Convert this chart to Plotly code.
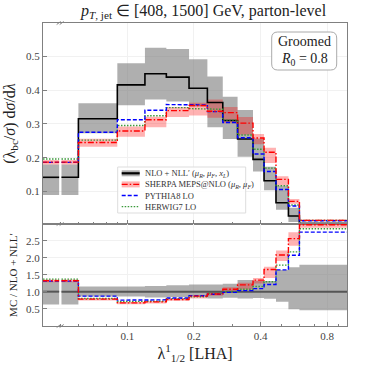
import plotly.graph_objects as go

# bin edges of lambda^1_{1/2} (first bin is the underflow [0, 0.06])
edges = [0.0, 0.06, 0.09, 0.12, 0.15, 0.19, 0.23, 0.27, 0.315, 0.37, 0.415, 0.47, 0.535, 0.6, 1.0]

# upper panel: (lambda_bc / sigma) dsigma/dlambda
nll = [0.142, 0.315, 0.415, 0.448, 0.438, 0.405, 0.363, 0.310, 0.255, 0.195, 0.132, 0.067, 0.0275, 0.005]
nll_lo = [0.090, 0.272, 0.355, 0.372, 0.366, 0.351, 0.290, 0.255, 0.203, 0.159, 0.104, 0.046, 0.010, 0.0025]
nll_hi = [0.180, 0.361, 0.479, 0.525, 0.521, 0.491, 0.440, 0.380, 0.341, 0.257, 0.173, 0.117, 0.052, 0.009]
sherpa = [0.187, 0.245, 0.279, 0.312, 0.339, 0.354, 0.337, 0.333, 0.302, 0.258, 0.216, 0.136, 0.071, 0.0148]
sherpa_lo = [0.180, 0.232, 0.262, 0.290, 0.320, 0.325, 0.318, 0.302, 0.268, 0.240, 0.184, 0.118, 0.064, 0.012]
sherpa_hi = [0.193, 0.256, 0.292, 0.321, 0.350, 0.362, 0.372, 0.350, 0.320, 0.270, 0.229, 0.145, 0.078, 0.017]
pythia = [0.186, 0.275, 0.312, 0.340, 0.357, 0.356, 0.336, 0.304, 0.259, 0.211, 0.159, 0.106, 0.057, 0.0137]
herwig = [0.196, 0.252, 0.295, 0.324, 0.348, 0.345, 0.343, 0.311, 0.267, 0.225, 0.169, 0.117, 0.060, 0.0142]

# lower panel: MC / NLO + NLL'
r_nll_lo = [0.62, 0.86, 0.86, 0.83, 0.84, 0.87, 0.80, 0.82, 0.80, 0.81, 0.79, 0.70, 0.48, 0.45]
r_nll_hi = [1.30, 1.15, 1.15, 1.17, 1.19, 1.21, 1.21, 1.23, 1.34, 1.32, 1.31, 1.64, 1.72, 1.79]
r_sherpa = [1.32, 0.78, 0.67, 0.70, 0.77, 0.87, 0.93, 1.07, 1.20, 1.34, 1.65, 2.08, 2.56, 2.97]
r_sherpa_lo = [1.28, 0.74, 0.63, 0.65, 0.73, 0.80, 0.88, 0.97, 1.06, 1.24, 1.40, 1.90, 2.35, 2.88]
r_sherpa_hi = [1.36, 0.81, 0.70, 0.72, 0.80, 0.89, 1.02, 1.13, 1.26, 1.40, 1.73, 2.21, 2.75, 3.05]
r_pythia = [1.31, 0.87, 0.75, 0.76, 0.815, 0.88, 0.925, 0.98, 1.03, 1.09, 1.21, 1.64, 2.07, 2.75]
r_herwig = [1.37, 0.80, 0.71, 0.72, 0.795, 0.85, 0.945, 1.00, 1.07, 1.15, 1.29, 1.78, 2.17, 2.85]

xticks = [0.1, 0.2, 0.4, 0.8]
xminor = [0.05, 0.06, 0.07, 0.08, 0.09, 0.3, 0.5, 0.6, 0.7, 0.9]

# display of the underflow bin (axis starts above 0, broken at BRK)
X_MIN, X_MAX = 0.0415, 0.985
BRK = (0.0491, 0.0503)

SERIF = "Liberation Serif"
GRAY = "rgba(110,110,110,0.55)"
PINK = "rgba(255,0,0,0.3)"

# plot-area box in pixels (for placing annotations / shapes)
L, R, T, B = 43.3, 347.3, 23.0, 326.0


def px(x):
    return (x - L) / (R - L)


def py(y):
    return (B - y) / (B - T)


def segments():
    segs = [(X_MIN, BRK[0], 0), (BRK[1], edges[1], 0)]
    for i in range(1, len(edges) - 1):
        segs.append((edges[i], edges[i + 1], i))
    return segs


def step_xy(vals):
    xs, ys = [], []
    prev_hi = None
    for lo, hi, i in segments():
        if prev_hi is not None and prev_hi != lo:
            xs.append(None)
            ys.append(None)
        xs += [lo, hi]
        ys += [vals[i], vals[i]]
        prev_hi = hi
    return xs, ys


def band_xy(lo_vals, hi_vals):
    xs, ys = [], []
    for lo, hi, i in segments():
        xs += [lo, hi, hi, lo, lo, None]
        ys += [lo_vals[i], lo_vals[i], hi_vals[i], hi_vals[i], lo_vals[i], None]
    return xs, ys


def add_band(fig, lo_vals, hi_vals, color, row):
    x, y = band_xy(lo_vals, hi_vals)
    fig.add_trace(go.Scatter(x=x, y=y, fill='toself', fillcolor=color, mode='none',
                             hoverinfo='skip', showlegend=False,
                             xaxis='x' if row == 1 else 'x2', yaxis='y' if row == 1 else 'y2'))


def add_step(fig, vals, color, dash, width, row):
    x, y = step_xy(vals)
    fig.add_trace(go.Scatter(x=x, y=y, mode='lines', line=dict(color=color, dash=dash, width=width),
                             showlegend=False,
                             xaxis='x' if row == 1 else 'x2', yaxis='y' if row == 1 else 'y2'))


def note(x, y, text, size, xanchor='center', color='#222'):
    fig.add_annotation(xref='paper', yref='paper', x=px(x), y=py(y), xanchor=xanchor, yanchor='middle',
                       showarrow=False, text=text, font=dict(family=SERIF, size=size, color=color))


fig = go.Figure()

# upper panel
add_band(fig, nll_lo, nll_hi, GRAY, 1)
add_band(fig, sherpa_lo, sherpa_hi, PINK, 1)
add_step(fig, nll, 'black', 'solid', 1.6, 1)
add_step(fig, herwig, '#3a9a3a', '1.5px,1.5px', 1.4, 1)
add_step(fig, pythia, 'blue', '4px,2px', 1.4, 1)
add_step(fig, sherpa, 'red', '6px,2px,1.5px,2px', 1.4, 1)

# lower panel
add_band(fig, r_nll_lo, r_nll_hi, GRAY, 2)
add_band(fig, r_sherpa_lo, r_sherpa_hi, PINK, 2)
add_step(fig, [1.0] * len(nll), '#555555', 'solid', 2.0, 2)
add_step(fig, r_herwig, '#3a9a3a', '1.5px,1.5px', 1.4, 2)
add_step(fig, r_pythia, 'blue', '4px,2px', 1.4, 2)
add_step(fig, r_sherpa, 'red', '6px,2px,1.5px,2px', 1.4, 2)

split = py(224)
axis_common = dict(showline=True, linecolor='#808080', linewidth=1, mirror=True,
                   ticks='inside', tickcolor='#808080', ticklen=4,
                   showgrid=True, gridcolor='#f1f1f1', zeroline=False,
                   tickfont=dict(family=SERIF, size=11, color='#444'))
minor = dict(tickvals=xminor, ticks='inside', ticklen=2, tickcolor='#808080', showgrid=False)

fig.update_layout(
    width=366, height=366,
    margin=dict(l=L, r=366 - R, t=T, b=366 - B, autoexpand=False),
    paper_bgcolor='white', plot_bgcolor='white',
    xaxis=dict(type='log', range=[-1.382, -0.0066], domain=[0, 1], anchor='y',
               tickvals=xticks, showticklabels=False, minor=minor, **axis_common),
    xaxis2=dict(type='log', range=[-1.382, -0.0066], domain=[0, 1], anchor='y2', matches='x',
                tickvals=xticks, ticktext=[str(v) for v in xticks], minor=minor,
                title=dict(text='λ<sup>1</sup><sub>1/2</sub> [LHA]', font=dict(family=SERIF, size=16, color='#222'),
                           standoff=4),
                **axis_common),
    yaxis=dict(domain=[split, 1], anchor='x', range=[0.004, 0.598],
               tickvals=[0.1, 0.2, 0.3, 0.4, 0.5],
               title=dict(text='(λ<sub>bc</sub>/<i>σ</i>) d<i>σ</i>/d<i>λ</i>',
                          font=dict(family=SERIF, size=16, color='#222'), standoff=6),
               **axis_common),
    yaxis2=dict(domain=[0, split], anchor='x2', range=[-0.01, 2.99],
                tickvals=[0.5, 1.0, 1.5, 2.0, 2.5], ticktext=['0.5', '1.0', '1.5', '2.0', '2.5'],
                title=dict(text="MC / NLO + NLL′", font=dict(family=SERIF, size=11, color='#222'), standoff=6),
                **axis_common),
)

# title
note(204, 12, '<i>p</i><sub><i>T</i>, jet</sub> ∈ [408, 1500] GeV, parton-level', 16)

# groomed box
x0, x1, y0, y1 = px(272), px(337), py(70), py(32)
rx, ry = 6 / (R - L), 6 / (B - T)
path = (f"M {x0+rx},{y0} L {x1-rx},{y0} Q {x1},{y0} {x1},{y0+ry} L {x1},{y1-ry} Q {x1},{y1} {x1-rx},{y1} "
        f"L {x0+rx},{y1} Q {x0},{y1} {x0},{y1-ry} L {x0},{y0+ry} Q {x0},{y0} {x0+rx},{y0} Z")
fig.add_shape(type='path', path=path, xref='paper', yref='paper',
              line=dict(color='#aaaaaa', width=1), fillcolor='white', layer='above')
note(304.5, 42, 'Groomed', 14)
note(304.5, 59, '<i>R</i><sub>0</sub> = 0.8', 14)

# legend drawn by hand
fig.add_shape(type='rect', xref='paper', yref='paper', x0=px(118), x1=px(246), y0=py(213), y1=py(167),
              line=dict(color='#dddddd', width=1), fillcolor='rgba(255,255,255,0.85)', layer='above')
entries = [
    ("NLO + NLL′ (<i>μ<sub>R</sub></i>, <i>μ<sub>F</sub></i>, <i>x<sub>L</sub></i>)", 'black', 'solid', GRAY),
    ("SHERPA MEPS@NLO (<i>μ<sub>R</sub></i>, <i>μ<sub>F</sub></i>)", 'red', '6px,2px,1.5px,2px', PINK),
    ("PYTHIA8 LO", 'blue', '4px,2px', None),
    ("HERWIG7 LO", '#3a9a3a', '1.5px,1.5px', None),
]
for k, (label, color, dash, patch) in enumerate(entries):
    yc = 173.3 + 11.1 * k
    if patch:
        fig.add_shape(type='rect', xref='paper', yref='paper', x0=px(122), x1=px(140),
                      y0=py(yc + 3), y1=py(yc - 3), line=dict(width=0), fillcolor=patch, layer='above')
    fig.add_shape(type='line', xref='paper', yref='paper', x0=px(122), x1=px(140), y0=py(yc), y1=py(yc),
                  line=dict(color=color, dash=dash, width=2.2 if k == 0 else 1.4), layer='above')
    note(143, yc, label, 8.5, xanchor='left', color='#333')

# axis-break markers
for yb in (23, 224, 326):
    for dx in (0, 3):
        fig.add_shape(type='line', xref='paper', yref='paper',
                      x0=px(57 + dx), x1=px(61 + dx), y0=py(yb + 1.5), y1=py(yb - 1.5),
                      line=dict(color='#808080', width=1), layer='above')

# the page's default 8px body margin would push the figure off the window
fig.write_html("out.html", config={'displayModeBar': False},
               post_script="document.body.style.margin='0px';")
